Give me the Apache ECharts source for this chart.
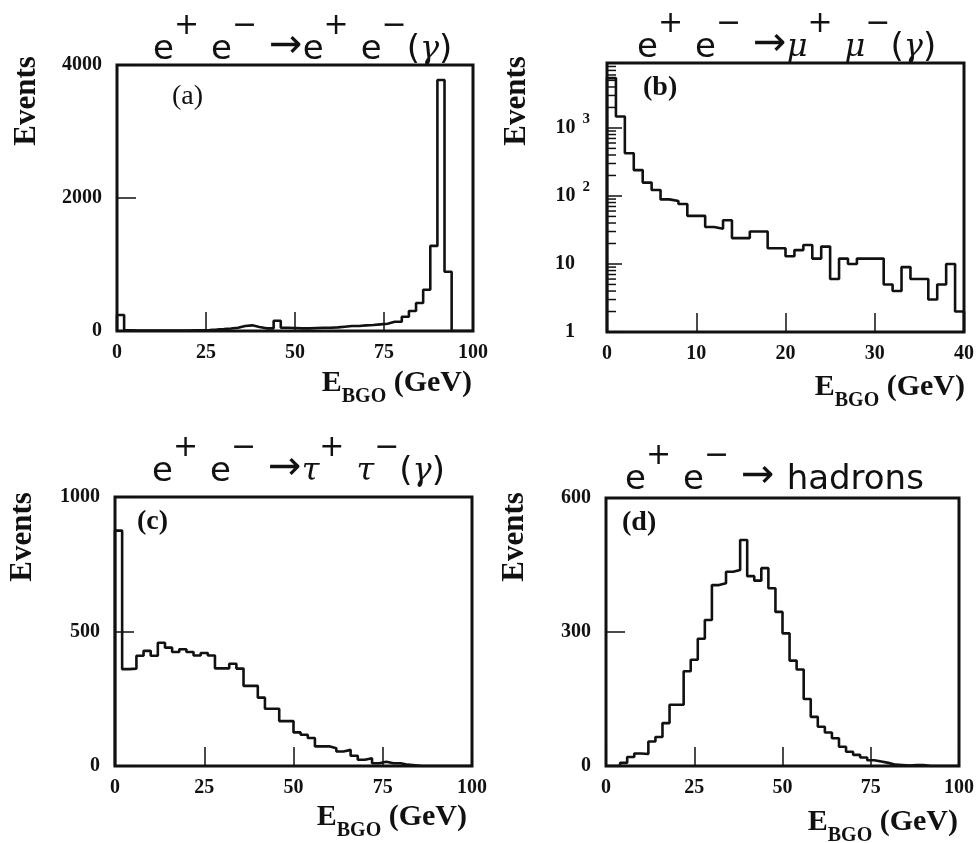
<!DOCTYPE html>
<html>
<head>
<meta charset="utf-8">
<script src="https://cdn.jsdelivr.net/npm/echarts@6/dist/echarts.min.js"></script>
<style>
  html, body { margin: 0; padding: 0; background: #fff; }
  #chart { width: 977px; height: 843px; }
</style>
</head>
<body>
<div id="chart"></div>
<script>
// E_BGO histograms, bin contents
const eeBinWidth = 2;      // GeV
const eeCounts = [240, 12, 6, 5, 5, 5, 6, 6, 8, 8, 10, 12, 15, 20, 28, 38, 50, 75, 85, 60,
  40, 40, 155, 50, 45, 40, 40, 45, 50, 50, 55, 65, 75, 75, 85, 90, 100, 110, 140, 140,
  215, 300, 420, 620, 1280, 3774, 890, 0, 0, 0];

const mumuBinWidth = 1;    // GeV
const mumuCounts = [5400, 1470, 425, 240, 157, 122, 89, 84, 76, 51, 51, 35, 33, 44, 24, 24, 30, 30, 17, 17,
  13, 16, 19, 12, 18, 6, 12, 10, 12, 12, 12, 5, 4, 9, 6, 6, 3, 5, 10, 2];

const tautauBinWidth = 2;
const tautauCounts = [875, 360, 362, 410, 428, 410, 458, 440, 424, 434, 424, 411, 420, 411, 363, 363, 380, 362, 298, 298,
  254, 213, 213, 167, 167, 125, 116, 104, 73, 73, 66, 54, 60, 38, 23, 29, 10, 16, 10, 10,
  5, 3, 0, 0, 0, 0, 0, 0, 0, 0];

const hadronBinWidth = 2;
const hadronCounts = [0, 0, 7, 20, 28, 27, 55, 65, 96, 137, 137, 212, 238, 285, 327, 405, 409, 435, 439, 506,
  425, 415, 443, 398, 345, 297, 236, 216, 150, 110, 88, 75, 62, 43, 32, 25, 19, 13, 10, 7,
  3, 2, 1, 2, 2, 0, 0, 0, 0, 0];

// axis ticks
const energyTicks = [0, 25, 50, 75, 100];
const muEnergyTicks = [0, 10, 20, 30, 40];
const eeEventTicks = [0, 2000, 4000];
const tauEventTicks = [0, 500, 1000];
const hadEventTicks = [0, 300, 600];
const logDecades = [1, 10, 100, 1000];
const logMax = 9000;

// minor log ticks 2..9 in every decade (b)
const minorLogTicks = [];
logDecades.forEach(d => {
  for (let m = 2; m <= 9; m++) {
    if (d * m <= logMax) minorLogTicks.push(d * m);
  }
});

const ink = '#111';
const serif = 'Liberation Serif';

// histogram outline: left edge of every bin, closed back to the floor
function histPoints(counts, width, floor) {
  const pts = [[0, floor]];
  counts.forEach((c, i) => pts.push([i * width, Math.max(c, floor)]));
  pts.push([counts.length * width, floor]);
  return pts;
}

// panel boxes (px)
const boxes = [
  { left: 117, top: 65, width: 356, height: 266 },
  { left: 607, top: 63, width: 360, height: 269 },
  { left: 115, top: 497, width: 357, height: 269 },
  { left: 606, top: 498, width: 355, height: 268 }
];

const tickLabel = { fontFamily: serif, fontWeight: 'bold', fontSize: 20, color: ink,
  formatter: v => String(v) };

function xAxisFor(i, ticks) {
  return {
    type: 'value', gridIndex: i,
    min: ticks[0], max: ticks[ticks.length - 1], interval: ticks[1] - ticks[0],
    axisLine: { show: false },
    axisTick: { show: true, inside: true, length: 19, lineStyle: { color: ink, width: 1.5 } },
    axisLabel: Object.assign({ margin: 12 }, tickLabel),
    splitLine: { show: false }
  };
}
function yAxisFor(i, ticks) {
  return {
    type: 'value', gridIndex: i,
    min: ticks[0], max: ticks[ticks.length - 1], interval: ticks[1] - ticks[0],
    axisLine: { show: false },
    axisTick: { show: true, inside: true, length: 19, lineStyle: { color: ink, width: 1.5 } },
    axisLabel: Object.assign({ margin: 15 }, tickLabel),
    splitLine: { show: false }
  };
}

const logYAxis = {
  type: 'log', gridIndex: 1, logBase: 10, min: logDecades[0], max: logMax,
  axisLine: { show: false },
  axisTick: { show: true, inside: true, length: 15, lineStyle: { color: ink, width: 1.5 } },
  axisLabel: {
    margin: 17, color: ink,
    formatter: function (v) {
      const e = Math.round(Math.log10(v));
      if (logDecades.indexOf(v) < 0 && Math.abs(Math.pow(10, e) - v) > 1e-6 * v) return '';
      if (e === 0) return '{n|1}{pad| }';
      if (e === 1) return '{n|10}{pad| }';
      return '{n|10}{s|' + e + '}';
    },
    rich: {
      n: { fontFamily: serif, fontWeight: 'bold', fontSize: 20, color: ink },
      s: { fontFamily: serif, fontWeight: 'bold', fontSize: 15, color: ink, padding: [0, 0, 18, 7] },
      pad: { fontSize: 15, width: 15 }
    }
  },
  splitLine: { show: false }
};

function histSeries(i, data) {
  return {
    type: 'line', xAxisIndex: i, yAxisIndex: i, step: 'end', data: data,
    symbol: 'none', silent: true,
    lineStyle: { color: ink, width: 2.6 }
  };
}

// ---- free text ----
const titleRich = {
  b: { fontFamily: 'DejaVu Sans', fontSize: 34, fill: ink },
  sup: { fontFamily: 'DejaVu Sans', fontSize: 30, fill: ink, padding: [0, 0, 48, 0] },
  sp: { fontSize: 20, width: 12 },
  arr: { fontFamily: 'DejaVu Sans', fontSize: 40, fill: ink, padding: [0, 0, 6, 0] },
  g: { fontFamily: 'DejaVu Serif', fontStyle: 'italic', fontSize: 32, fill: ink }
};
function panelTitle(x, y, text) {
  return { type: 'text', x: x, y: y, silent: true,
    style: { text: text, rich: titleRich, align: 'left', verticalAlign: 'middle', fill: ink } };
}
const eeHead = '{b|e}{sup|+}{sp| }{b|e}{sup|−}{sp| }{arr|→}';
const titles = [
  eeHead + '{b|e}{sup|+}{sp| }{b|e}{sup|−}{b|(}{g|γ}{b|)}',
  eeHead + '{g|μ}{sup|+}{sp| }{g|μ}{sup|−}{b|(}{g|γ}{b|)}',
  eeHead + '{g|τ}{sup|+}{sp| }{g|τ}{sup|−}{b|(}{g|γ}{b|)}',
  eeHead + '{sp| }{b|hadrons}'
];

const xNameRich = {
  e: { fontFamily: serif, fontWeight: 'bold', fontSize: 30, fill: ink },
  s: { fontFamily: serif, fontWeight: 'bold', fontSize: 20, fill: ink, padding: [28, 0, 0, 0] }
};
function xName(x, y) {
  return { type: 'text', x: x, y: y, silent: true,
    style: { text: '{e|E}{s|BGO}{e| (GeV)}', rich: xNameRich, align: 'right', verticalAlign: 'middle', fill: ink } };
}
function yName(x, y) {
  return { type: 'text', x: x, y: y, rotation: Math.PI / 2, silent: true,
    style: { text: 'Events', fontFamily: serif, fontWeight: 'bold', fontSize: 31, fill: ink,
      align: 'center', verticalAlign: 'middle' } };
}
function tag(x, y, text, bold) {
  return { type: 'text', x: x, y: y, silent: true,
    style: { text: text, fontFamily: serif, fontWeight: bold ? 'bold' : 'normal', fontSize: 28, fill: ink,
      align: 'left', verticalAlign: 'middle' } };
}

const chart = echarts.init(document.getElementById('chart'), null, { renderer: 'canvas' });

chart.setOption({
  backgroundColor: '#fff',
  animation: false,
  grid: boxes.map(b => Object.assign({ show: true, borderColor: ink, borderWidth: 3, backgroundColor: 'transparent' }, b)),
  xAxis: [
    xAxisFor(0, energyTicks),
    xAxisFor(1, muEnergyTicks),
    xAxisFor(2, energyTicks),
    xAxisFor(3, energyTicks)
  ],
  yAxis: [
    yAxisFor(0, eeEventTicks),
    logYAxis,
    yAxisFor(2, tauEventTicks),
    yAxisFor(3, hadEventTicks)
  ],
  series: [
    histSeries(0, histPoints(eeCounts, eeBinWidth, 0)),
    histSeries(1, histPoints(mumuCounts, mumuBinWidth, 1)),
    histSeries(2, histPoints(tautauCounts, tautauBinWidth, 0)),
    histSeries(3, histPoints(hadronCounts, hadronBinWidth, 0)),
    {
      // short inner ticks for 2..9 x 10^n on the log axis
      type: 'custom', xAxisIndex: 1, yAxisIndex: 1, silent: true,
      data: minorLogTicks.map(v => [0, v]),
      renderItem: function (params, api) {
        const p = api.coord([0, api.value(1)]);
        return { type: 'line', shape: { x1: p[0], y1: p[1], x2: p[0] + 9, y2: p[1] },
          style: { stroke: ink, lineWidth: 1.5 } };
      }
    }
  ],
  graphic: [
    panelTitle(153, 50, titles[0]),
    panelTitle(637, 48, titles[1]),
    panelTitle(152, 472, titles[2]),
    panelTitle(625, 480, titles[3]),
    xName(472, 383), xName(965, 387), xName(467, 817), xName(958, 822),
    yName(27, 101), yName(517, 101), yName(23, 537), yName(515, 537),
    tag(172, 97, '(a)', false), tag(643, 88, '(b)', true),
    tag(137, 522, '(c)', true), tag(622, 523, '(d)', true)
  ]
});
</script>
</body>
</html>
